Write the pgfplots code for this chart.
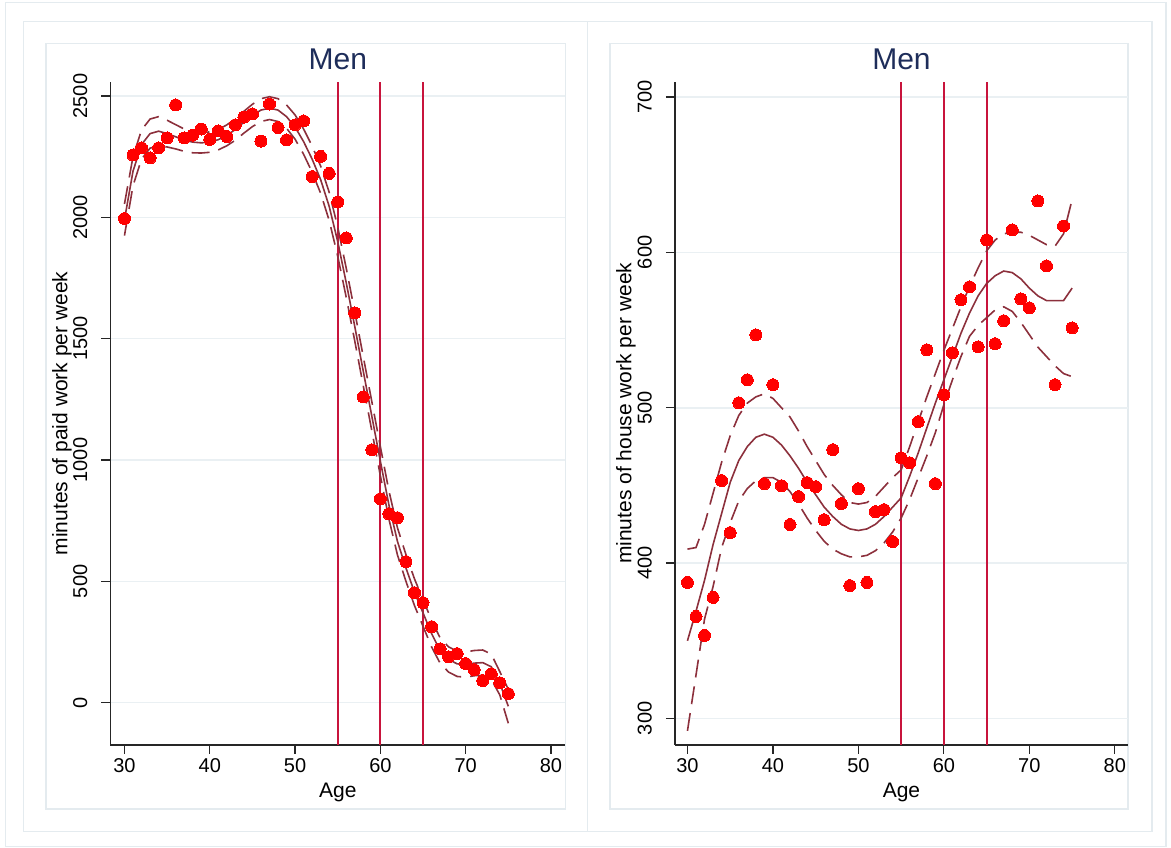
\documentclass[border=0pt]{standalone}
\usepackage{fontspec}
\setmainfont{Liberation Sans}
\usepackage{pgfplots}
\pgfplotsset{compat=1.18}
\usepackage{pgfplotstable}

\definecolor{fitc}{RGB}{140,48,60}
\definecolor{vline}{RGB}{200,20,60}
\definecolor{gridc}{RGB}{234,240,243}
\definecolor{framec}{RGB}{228,235,239}
\definecolor{titlec}{RGB}{30,45,90}

\pgfplotstableread{
age val
30 1995
31 2257
32 2286
33 2245
34 2286
35 2327
36 2463
37 2327
38 2339
39 2364
40 2321
41 2356
42 2333
43 2381
44 2413
45 2426
46 2314
47 2467
48 2370
49 2319
50 2381
51 2397
52 2168
53 2251
54 2181
55 2063
56 1915
57 1606
58 1260
59 1042
60 840
61 778
62 762
63 581
64 453
65 412
66 313
67 222
68 189
69 202
70 161
71 136
72 91
73 119
74 82
75 37
}\paidpts

\pgfplotstableread{
age fit lo hi
30 1990 1925 2055
31 2190 2130 2250
32 2300 2240 2360
33 2345 2285 2405
34 2355 2295 2415
35 2345 2290 2400
36 2332 2282 2382
37 2318 2272 2364
38 2310 2266 2354
39 2307 2265 2349
40 2310 2268 2352
41 2320 2278 2362
42 2338 2295 2381
43 2362 2318 2406
44 2392 2347 2437
45 2420 2374 2466
46 2442 2395 2489
47 2450 2403 2497
48 2442 2395 2489
49 2415 2367 2463
50 2372 2322 2422
51 2312 2260 2364
52 2240 2186 2294
53 2155 2099 2211
54 2045 1987 2103
55 1900 1840 1960
56 1730 1670 1790
57 1550 1490 1610
58 1365 1305 1425
59 1180 1120 1240
60 995 935 1055
61 815 757 873
62 665 609 721
63 555 500 610
64 455 400 510
65 370 315 425
66 285 230 340
67 215 163 267
68 178 126 230
69 160 108 212
70 157 105 209
71 163 111 215
72 165 113 217
73 148 96 200
74 80 32 128
75 -15 -85 55
}\paidfit

\pgfplotstableread{
age val
30 387.5
31 365.6
32 353.4
33 377.9
34 453.1
35 419.6
36 503.2
37 518.0
38 546.9
39 451.1
40 514.8
41 449.8
42 424.8
43 442.8
44 451.8
45 449.2
46 427.9
47 473.0
48 438.3
49 385.5
50 447.9
51 387.5
52 433.1
53 434.4
54 413.8
55 467.8
56 464.6
57 491.0
58 537.3
59 451.1
60 508.4
61 535.4
62 569.5
63 577.8
64 539.2
65 608.0
66 541.2
67 556.0
68 614.5
69 570.1
70 564.3
71 633.1
72 591.3
73 514.8
74 617.0
75 551.4
}\housepts

\pgfplotstableread{
age fit lo hi
30 350 292 409
31 369 328 410
32 389 364 425
33 412 385 445
34 432 410 465
35 452 426 482
36 466 440 495
37 475 448 503
38 481 453 507
39 483 455 509
40 481 455 506
41 476 452 500
42 469 446 494
43 461 438 485
44 452 429 475
45 444 421 466
46 436 414 457
47 430 409 450
48 425 406 444
49 422 404 439
50 421 404 438
51 422 405 439
52 425 408 443
53 430 413 449
54 436 420 455
55 442 429 460
56 456 441 475
57 471 455 491
58 487 469 507
59 503 484 522
60 518 502 537
61 533 518 551
62 548 533 565
63 561 546 578
64 572 553 590
65 580 558 601
66 585 563 608
67 588 565 612
68 587 562 613
69 583 555 613
70 577 547 611
71 572 539 608
72 569 533 605
73 569 527 604
74 569 522 612
75 577 520 634
}\housefit

\pgfplotsset{
  panel/.style={
    scale only axis,
    anchor=south west,
    axis lines=left,
    axis line style={-, line width=1.2pt, black!85},
    tick align=outside,
    major tick length=9pt,
    tick style={line width=1.2pt, black!85},
    xtick={30,40,50,60,70,80},
    ymajorgrids,
    major grid style={gridc, line width=1.5pt},
    /pgf/number format/assume math mode=true,
    /pgf/number format/1000 sep={},
    ticklabel style={font=\fontsize{20}{23}\selectfont},
    yticklabel style={xshift=-12pt, rotate=90, anchor=south, inner sep=2pt},
    xticklabel style={anchor=north, inner sep=4pt},
    title style={font=\fontsize{30}{36}\selectfont, color=titlec, at={(0.5,1)}, anchor=base, yshift=6pt},
    xlabel={Age},
    xlabel style={font=\fontsize{21}{25}\selectfont, at={(0.5,0)}, anchor=base, yshift=-52.5pt},
    ylabel style={font=\fontsize{21}{25}\selectfont, anchor=center},
    scaled ticks=false,
    clip=false,
  },
  fitline/.style={fitc, line width=1.6pt},
  ciline/.style={fitc, line width=1.6pt, dash pattern=on 18pt off 9pt},
  dots/.style={only marks, mark=*, mark size=6pt, color=red, mark options={fill=red, draw=red, line width=0pt}},
  xl/.style={vline, line width=1.8pt},
}

\begin{document}
\begin{tikzpicture}
\path[use as bounding box] (0,0) rectangle (1171pt,848pt);
\draw[framec, line width=1.2pt] (5.7pt,1.3pt) rectangle (1166pt,845.3pt);
\draw[framec, line width=1.2pt] (23.8pt,16.3pt) rectangle (587.6pt,826.3pt);
\draw[framec, line width=1.2pt] (587.6pt,16.3pt) rectangle (1152pt,826.3pt);
\draw[framec, line width=1.2pt] (45.9pt,39pt) rectangle (565.4pt,804.7pt);
\draw[framec, line width=1.2pt] (610pt,39pt) rectangle (1128pt,804.7pt);

\begin{axis}[panel,
  at={(110.4pt,103pt)}, width=454.9pt, height=663.3pt,
  xmin=28.35, xmax=81.68, ymin=-174.4, ymax=2559,
  ytick={0,500,1000,1500,2000,2500},
  title={Men},
  ylabel={minutes of paid work per week},
  ylabel style={at={(-0.1066,0.5)}},
]
\addplot[xl] coordinates {(55,-174.4) (55,2559)};
\addplot[xl] coordinates {(60,-174.4) (60,2559)};
\addplot[xl] coordinates {(65,-174.4) (65,2559)};
\addplot[ciline] table[x=age, y=lo] {\paidfit};
\addplot[ciline] table[x=age, y=hi] {\paidfit};
\addplot[fitline] table[x=age, y=fit] {\paidfit};
\addplot[dots] table[x=age, y=val] {\paidpts};
\end{axis}

\begin{axis}[panel,
  at={(674.9pt,103pt)}, width=453.1pt, height=663.3pt,
  xmin=28.53, xmax=81.54, ymin=282.9, ymax=709.9,
  ytick={300,400,500,600,700},
  title={Men},
  ylabel={minutes of house work per week},
  ylabel style={at={(-0.108,0.5)}},
]
\addplot[xl] coordinates {(55,282.9) (55,709.9)};
\addplot[xl] coordinates {(60,282.9) (60,709.9)};
\addplot[xl] coordinates {(65,282.9) (65,709.9)};
\addplot[ciline] table[x=age, y=lo] {\housefit};
\addplot[ciline] table[x=age, y=hi] {\housefit};
\addplot[fitline] table[x=age, y=fit] {\housefit};
\addplot[dots] table[x=age, y=val] {\housepts};
\end{axis}
\end{tikzpicture}
\end{document}
